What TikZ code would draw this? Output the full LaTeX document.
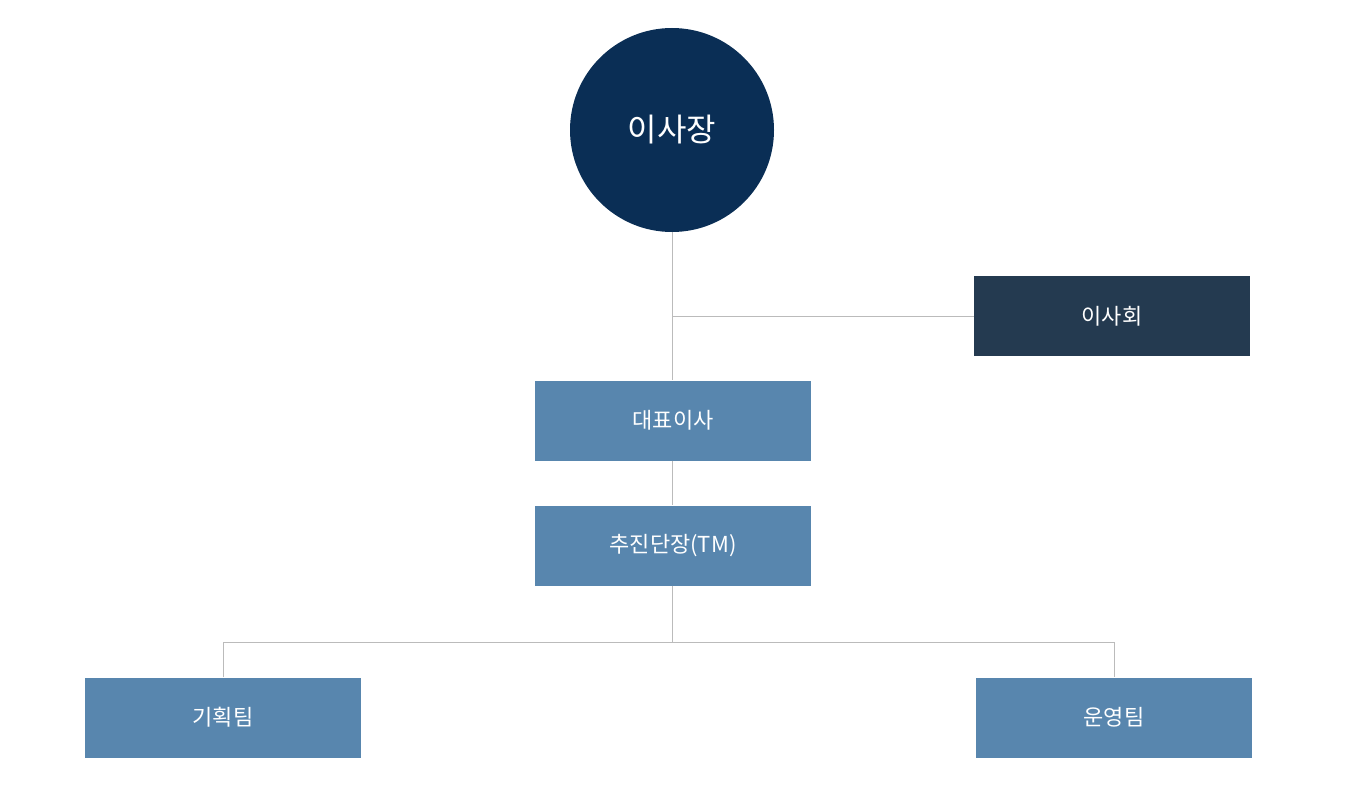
\documentclass[tikz,border=0pt]{standalone}
\usepackage{fontspec}
\setmainfont{Noto Sans CJK KR}
\definecolor{navy}{HTML}{0A2E55}
\definecolor{dark}{HTML}{243A50}
\definecolor{steel}{HTML}{5886AE}
\definecolor{ln}{HTML}{BBBBBB}
\begin{document}
\begin{tikzpicture}[x=1pt,y=-1pt,
  box/.style={rectangle,fill=steel,minimum width=276pt,minimum height=80pt,inner sep=0,text=white,font=\fontsize{22}{26}\selectfont},
  conn/.style={draw=ln,line width=1pt}]
\useasboundingbox (0,0) rectangle (1363,797);
\node[circle,fill=navy,minimum size=204pt,inner sep=0,text=white,font=\fontsize{32}{38}\selectfont] (ceo) at (672,130) {이사장};
\node[box,fill=dark] (board) at (1112,316) {이사회};
\node[box] (rep) at (673,420.5) {대표이사};
\node[box] (tm) at (673,545.5) {추진단장(TM)};
\node[box] (plan) at (223,717.5) {기획팀};
\node[box] (ops) at (1114,717.5) {운영팀};
\coordinate (j1) at (672,316);
\coordinate (j2) at (672,642);
\draw[conn] (ceo.south) -- (rep.north -| ceo.south);
\draw[conn] (j1) -- (board.west);
\draw[conn] (rep.south -| ceo.south) -- (tm.north -| ceo.south);
\draw[conn] (tm.south -| ceo.south) -- (j2);
\draw[conn] (plan.north) -- (plan.north |- j2) -- (ops.north |- j2) -- (ops.north);
\end{tikzpicture}
\end{document}
